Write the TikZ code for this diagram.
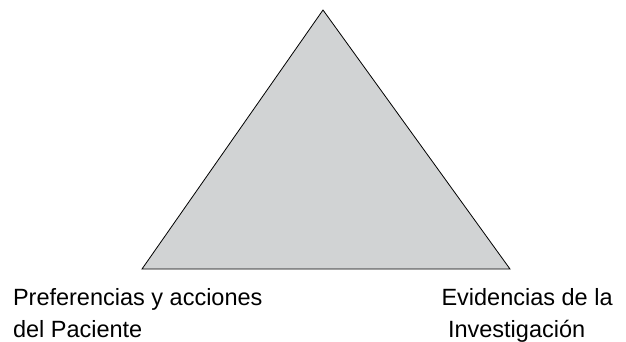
\documentclass[tikz,border=0pt]{standalone}
\usepackage{fontspec}
\setmainfont{Liberation Sans}
\definecolor{trigray}{RGB}{209,211,212}
\begin{document}
\begin{tikzpicture}[x=1pt, y=-1pt, font=\fontsize{23.5}{32}\selectfont, every node/.style={inner sep=0pt, outer sep=0pt, align=left, anchor=base west}, line join=miter]
        \useasboundingbox (0, 0) rectangle (626, 341);
        \coordinate (top) at (323, 10);
        \coordinate (left) at (142, 269);
        \coordinate (right) at (510, 269);
        \draw[fill=trigray, line width=0.8pt] (top) -- (left) -- (right) -- cycle;
        
        \node (patient) at (13, 337) {Preferencias y acciones\\del Paciente};
        \node (evidence) at (441.5, 337) {Evidencias de la\\\hspace*{0.278em}Investigación};
    \end{tikzpicture}
\end{document}
